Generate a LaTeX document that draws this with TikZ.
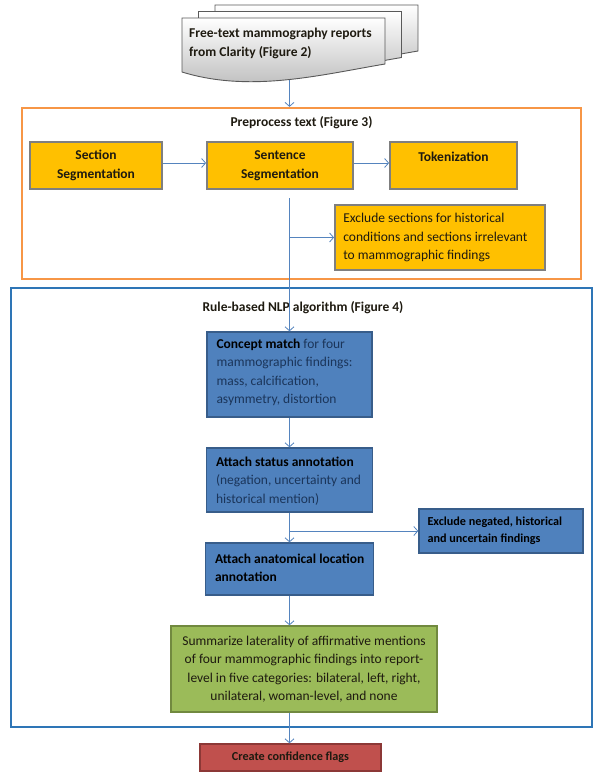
\documentclass[tikz,border=0pt]{standalone}
\usepackage{fontspec}
\setmainfont{Carlito}
\usetikzlibrary{arrows.meta}
\definecolor{arrowc}{HTML}{5584BE}
\definecolor{orangec}{HTML}{F79646}
\definecolor{bluec}{HTML}{2E75B6}
\definecolor{yel}{HTML}{FFC000}
\definecolor{yelb}{HTML}{7F7F7F}
\definecolor{boxb}{HTML}{4F81BD}
\definecolor{boxbd}{HTML}{385D8A}
\definecolor{navyt}{HTML}{1B355A}
\definecolor{grnf}{HTML}{9BBB59}
\definecolor{grnd}{HTML}{71893F}
\definecolor{redf}{HTML}{C0504D}
\definecolor{redd}{HTML}{8C3836}
\definecolor{darkt}{HTML}{1E1A10}
\definecolor{docb}{HTML}{595959}
\begin{document}
\begin{tikzpicture}[x=1pt,y=-1pt,font=\fontsize{13.5}{18.4}\selectfont,
  flow/.style={draw=arrowc,line width=0.8pt,-{Straight Barb[length=4pt,width=9pt]}},
  docsh/.style={draw=docb,line width=0.9pt,top color=white,bottom color=black!28},
  ybox/.style={draw=yelb,line width=1.8pt,fill=yel,inner sep=0pt,align=center,text=darkt},
  bbox/.style={draw=boxbd,line width=1.4pt,fill=boxb,inner sep=0pt},
  btext/.style={anchor=west,align=left,inner sep=0pt,text=navyt},
  frame/.style={line width=2.2pt,inner sep=0pt},
  ttl/.style={font=\bfseries\fontsize{13.5}{18.4}\selectfont,inner sep=0pt,text=darkt}]
\path[use as bounding box] (0,0) rectangle (602,779);

% containers
\node[frame,draw=orangec,minimum width=559pt,minimum height=171pt] (prep) at (301.5,193.5) {};
\node[frame,draw=bluec,minimum width=581pt,minimum height=439pt] (nlp) at (301.5,507.5) {};
\node[ttl] (t1) at (301.5,123) {Preprocess text (Figure 3)};
\node[ttl] (t2) at (303,308) {Rule-based NLP algorithm (Figure 4)};

% multi-document
\foreach \dx/\dy in {33/-13,16.5/-6.5,0/0}{
  \draw[docsh,shift={(\dx,\dy)}] (182,18) -- (385,18) -- (385,64)
    .. controls (320,75) and (250,93) .. (182,72) -- cycle;
}
\node[anchor=west,align=left,inner sep=0pt,text=darkt,
  font=\bfseries\fontsize{13.5}{19}\selectfont] (doc) at (189,43)
  {Free-text mammography reports\\from Clarity (Figure 2)};
\coordinate (docend) at (289.5,80);

% preprocessing boxes
\node[ybox,minimum width=132pt,minimum height=47pt,
  font=\bfseries\fontsize{13.5}{19}\selectfont] (sec) at (96,165.5) {Section\\Segmentation};
\node[ybox,minimum width=146pt,minimum height=47pt,
  font=\bfseries\fontsize{13.5}{19}\selectfont] (sen) at (280,165.5) {Sentence\\Segmentation};
\node[ybox,minimum width=127pt,minimum height=47pt,
  font=\bfseries\fontsize{13.5}{18}\selectfont] (tok) at (453.5,165.5) {Tokenization\\\mbox{}};
\node[ybox,minimum width=210pt,minimum height=65pt] (excl) at (440,237.5) {};
\node[anchor=west,align=left,inner sep=0pt,text=darkt,
  font=\fontsize{13.5}{18.5}\selectfont] (exclt) at ([xshift=9pt]excl.west)
  {Exclude sections for historical\\conditions and sections irrelevant\\to mammographic findings};

% NLP boxes
\node[bbox,minimum width=165pt,minimum height=85pt] (con) at (289.5,374.5) {};
\node[btext] (cont) at ([xshift=10pt,yshift=2pt]con.west)
  {\textcolor{black}{\textbf{Concept match}} for four\\mammographic findings:\\mass, calcification,\\asymmetry, distortion};
\node[bbox,minimum width=166pt,minimum height=64pt] (sta) at (289.5,480) {};
\node[btext] (stat) at ([xshift=10pt,yshift=-1pt]sta.west)
  {\textcolor{black}{\textbf{Attach status annotation}}\\(negation, uncertainty and\\historical mention)};
\node[bbox,minimum width=168pt,minimum height=52pt] (ana) at (289.5,569) {};
\node[btext,text=black,font=\bfseries\fontsize{13.5}{18.4}\selectfont] (anat)
  at ([xshift=10pt,yshift=1pt]ana.west) {Attach anatomical location\\annotation};
\node[bbox,minimum width=164pt,minimum height=44pt] (exn) at (501,531) {};
\node[btext,text=black,font=\bfseries\fontsize{12.2}{17}\selectfont] (exnt)
  at ([xshift=9pt]exn.west) {Exclude negated, historical\\and uncertain findings};

\node[draw=grnd,line width=1.4pt,fill=grnf,minimum width=266pt,minimum height=86pt,
  inner sep=0pt,align=center,text=darkt] (grn) at (304,669)
  {Summarize laterality of affirmative mentions\\of four mammographic findings into report-\\level in five categories: bilateral, left, right,\\unilateral, woman-level, and none};
\node[draw=redd,line width=1.4pt,fill=redf,minimum width=181pt,minimum height=27pt,
  inner sep=0pt,text=darkt,font=\bfseries\fontsize{12.2}{15}\selectfont] (red) at (290.5,757.5)
  {Create confidence flags};

% connectors
\draw[flow] (docend) -- (docend |- prep.north);
\draw[flow] ([yshift=2.5pt]sec.east) -- ([yshift=2.5pt]sen.west);
\draw[flow] ([yshift=2.5pt]sen.east) -- ([yshift=2.5pt]tok.west);
\coordinate (vs) at (289.5,198);
\draw[flow] (vs) -- (con.north);
\draw[flow] (vs |- excl.west) -- (excl.west);
\draw[flow] (con.south) -- (sta.north);
\draw[flow] (sta.south) -- (ana.north);
\coordinate (b2) at (289.5,531);
\draw[flow] (b2) -- (exn.west);
\draw[flow] (ana.south) -- (ana.south |- grn.north);
\draw[flow] (ana.south |- grn.south) -- (ana.south |- red.north);
\end{tikzpicture}
\end{document}
